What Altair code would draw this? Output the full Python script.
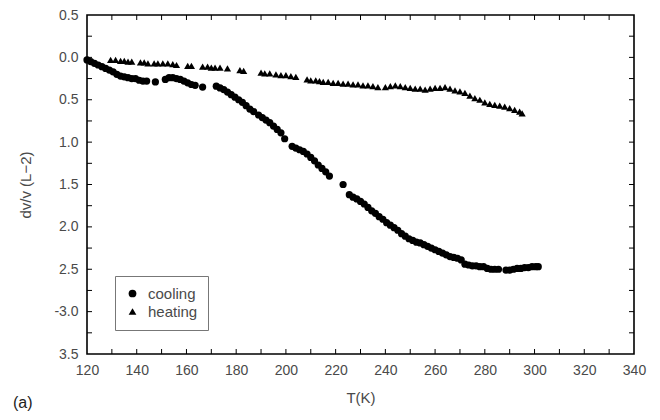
import altair as alt
import pandas as pd

# ---- data ----
cooling_T = [120.0, 121.5, 123.0, 124.5, 126.0, 127.5, 129.0, 130.5, 132.0, 133.5,
             135.0, 136.5, 138.0, 139.5, 141.0, 142.5, 144.0, 147.5, 151.5, 153.0,
             154.5, 156.0, 157.5, 159.0, 160.5, 162.0, 163.5, 166.5, 172.0, 173.5,
             175.0, 176.5, 178.0, 179.5, 181.0, 182.5, 184.0, 185.5, 187.0, 189.0,
             190.5, 192.0, 193.5, 195.0, 196.5, 198.0, 199.5, 202.5, 204.0, 205.5,
             207.0, 208.5, 210.0, 211.5, 213.0, 214.5, 216.0, 217.5, 223.0, 225.5,
             227.0, 228.5, 230.0, 231.5, 233.0, 234.5, 236.0, 237.5, 239.0, 240.5,
             242.0, 243.5, 245.0, 246.5, 248.0, 249.5, 251.0, 252.5, 254.0, 255.5,
             257.0, 258.5, 260.0, 261.5, 263.0, 264.5, 266.0, 267.5, 269.0, 270.5,
             272.0, 273.5, 275.0, 276.5, 278.0, 279.5, 281.0, 282.5, 284.0, 285.5,
             288.5, 290.0, 291.5, 293.0, 294.5, 296.0, 297.5, 299.0, 300.5, 301.5]
cooling_v = [-0.03, -0.05, -0.07, -0.09, -0.11, -0.13, -0.15, -0.17, -0.20, -0.22,
             -0.23, -0.24, -0.25, -0.25, -0.27, -0.28, -0.28, -0.29, -0.26, -0.24,
             -0.24, -0.25, -0.26, -0.28, -0.30, -0.32, -0.33, -0.35, -0.34, -0.36,
             -0.38, -0.41, -0.44, -0.47, -0.50, -0.53, -0.57, -0.61, -0.64, -0.68,
             -0.71, -0.74, -0.77, -0.81, -0.85, -0.89, -0.96, -1.05, -1.07, -1.09,
             -1.11, -1.14, -1.18, -1.22, -1.27, -1.31, -1.35, -1.40, -1.50, -1.62,
             -1.65, -1.67, -1.70, -1.73, -1.77, -1.81, -1.84, -1.88, -1.91, -1.95,
             -1.98, -2.01, -2.04, -2.08, -2.11, -2.14, -2.16, -2.18, -2.19, -2.21,
             -2.23, -2.25, -2.27, -2.29, -2.31, -2.33, -2.35, -2.36, -2.37, -2.39,
             -2.44, -2.45, -2.46, -2.46, -2.47, -2.47, -2.49, -2.50, -2.50, -2.50,
             -2.51, -2.51, -2.50, -2.49, -2.49, -2.48, -2.48, -2.47, -2.47, -2.47]

heating_T = [129.5, 131.5, 133.5, 135.0, 136.5, 138.0, 141.5, 143.0, 144.5, 147.0,
             148.5, 150.5, 152.5, 154.5, 156.0, 160.5, 162.0, 166.5, 168.5, 170.0,
             171.5, 173.5, 176.5, 181.5, 183.0, 190.0, 191.5, 193.5, 196.0, 198.0,
             200.0, 202.0, 204.0, 208.5, 210.0, 212.0, 213.5, 215.0, 217.0, 219.0,
             221.0, 223.0, 225.0, 227.0, 229.0, 231.0, 233.0, 235.0, 237.0, 240.0,
             242.0, 244.0, 246.0, 248.0, 250.0, 252.0, 254.0, 256.0, 258.0, 260.0,
             262.0, 264.0, 266.0, 268.0, 270.0, 272.0, 274.0, 276.0, 278.0, 280.0,
             282.0, 284.0, 286.0, 288.0, 290.0, 292.0, 294.0, 295.0]
heating_v = [-0.03, -0.03, -0.04, -0.04, -0.05, -0.05, -0.06, -0.06, -0.07, -0.07,
             -0.07, -0.07, -0.07, -0.08, -0.09, -0.10, -0.10, -0.11, -0.11, -0.12,
             -0.12, -0.12, -0.13, -0.15, -0.16, -0.18, -0.19, -0.19, -0.20, -0.21,
             -0.21, -0.22, -0.23, -0.26, -0.27, -0.27, -0.28, -0.29, -0.29, -0.30,
             -0.30, -0.31, -0.31, -0.32, -0.32, -0.33, -0.33, -0.34, -0.35, -0.35,
             -0.34, -0.33, -0.34, -0.35, -0.36, -0.37, -0.37, -0.38, -0.37, -0.36,
             -0.36, -0.35, -0.37, -0.39, -0.40, -0.42, -0.45, -0.48, -0.50, -0.53,
             -0.55, -0.56, -0.57, -0.58, -0.60, -0.62, -0.64, -0.66]

series_names = ["cooling", "heating"]

x_label_values = [120, 140, 160, 180, 200, 220, 240, 260, 280, 300, 320, 340]
x_minor_ticks = [130, 140, 150, 160, 170, 180, 190, 200, 210, 220, 230, 240,
                 250, 260, 270, 280, 290, 300, 310, 320, 330]
y_label_values = [0.5, 0.0, -0.5, -1.0, -1.5, -2.0, -2.5, -3.0, -3.5]
y_label_texts = ["0.5", "0.0", "0.5", "1.0", "1.5", "2.0", "2.5", "-3.0", "3.5"]
y_minor_ticks = [0.25, 0.0, -0.25, -0.5, -0.75, -1.0, -1.25, -1.5, -1.75, -2.0,
                 -2.25, -2.5, -2.75, -3.0, -3.25]

# ---- build tables ----
df = pd.concat([
    pd.DataFrame({"T": cooling_T, "v": cooling_v, "series": series_names[0]}),
    pd.DataFrame({"T": heating_T, "v": heating_v, "series": series_names[1]}),
], ignore_index=True)
xt = pd.DataFrame({"T": x_minor_ticks})
yt = pd.DataFrame({"v": y_minor_ticks})

W, H = 547, 339
FONT = "Liberation Sans"
TXT = "#4a4a4a"

xscale = alt.Scale(domain=[120, 340], nice=False, zero=False)
yscale = alt.Scale(domain=[-3.5, 0.5], nice=False, zero=False)

texts_js = "[" + ",".join(f"'{t}'" for t in y_label_texts) + "]"
values_js = "[" + ",".join(repr(v) for v in y_label_values) + "]"
y_label_expr = f"{texts_js}[indexof({values_js}, datum.value)]"

x_axis = alt.Axis(values=x_label_values, title="T(K)", ticks=False, domain=False,
                  grid=False, labelPadding=9, titlePadding=13, labelFlush=False, format="d")
y_axis = alt.Axis(values=y_label_values, title="dv/v (L\u22122)", ticks=False,
                  domain=False, grid=False, labelPadding=9, titlePadding=20,
                  labelFlush=False, labelExpr=y_label_expr)

xenc = alt.X("T:Q", scale=xscale, axis=x_axis)
yenc = alt.Y("v:Q", scale=yscale, axis=y_axis)

points = alt.Chart(df).mark_point(filled=True, opacity=1, size=52, color="black").encode(
    x=xenc,
    y=yenc,
    shape=alt.Shape("series:N",
                    scale=alt.Scale(domain=series_names, range=["circle", "triangle-up"]),
                    legend=alt.Legend(title=None, orient="none", legendX=28, legendY=261,
                                      strokeColor="#777", padding=10, rowPadding=2,
                                      symbolSize=60, symbolFillColor="black",
                                      symbolStrokeColor="black", labelFontSize=15,
                                      labelFont=FONT, labelColor=TXT, labelOffset=8)),
)

xtick_bottom = alt.Chart(xt).mark_rule(color="black", strokeWidth=1).encode(
    x=xenc, y=alt.value(H), y2=alt.value(H - 5))
xtick_top = alt.Chart(xt).mark_rule(color="black", strokeWidth=1).encode(
    x=xenc, y=alt.value(0), y2=alt.value(5))
ytick_left = alt.Chart(yt).mark_rule(color="black", strokeWidth=1).encode(
    y=yenc, x=alt.value(0), x2=alt.value(5))
ytick_right = alt.Chart(yt).mark_rule(color="black", strokeWidth=1).encode(
    y=yenc, x=alt.value(W), x2=alt.value(W - 5))

chart = alt.layer(points, xtick_bottom, xtick_top, ytick_left, ytick_right).properties(
    width=W, height=H,
    autosize=alt.AutoSizeParams(type="none"),
    padding={"left": 79, "top": 7, "right": 18, "bottom": 58},
    title=alt.TitleParams(text="(a)", orient="bottom", anchor="start", frame="group",
                          dx=-74, dy=-14, fontSize=16, fontWeight="normal",
                          font=FONT, color="#222"),
).configure_view(stroke="black", strokeWidth=1.6).configure_axis(
    labelFont=FONT, labelFontSize=14, labelColor=TXT,
    titleFont=FONT, titleFontSize=15, titleColor=TXT, titleFontWeight="normal",
)

chart.save("out.html", embed_options={"renderer": "svg", "actions": False})
